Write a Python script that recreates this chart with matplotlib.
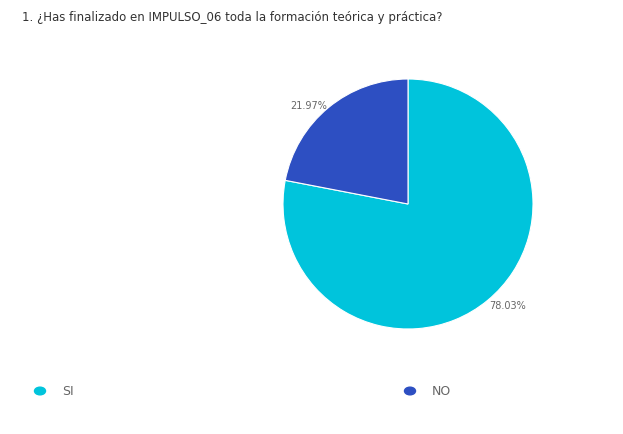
import matplotlib
matplotlib.use("Agg")
import matplotlib.pyplot as plt

categories = ["SI", "NO"]
values = [78.03, 21.97]
colors = ["#00c4dc", "#2d4fc2"]
title = "1. ¿Has finalizado en IMPULSO_06 toda la formación teórica y práctica?"

W, H = 623, 435
fig = plt.figure(figsize=(W/100, H/100), dpi=100)
fig.text(22/W, 1-17/H, title, fontsize=8.5, color="#333333", va="center", family="DejaVu Sans")

cx, cy, r = 408, 205, 125
ax = fig.add_axes([(cx-r)/W, 1-(cy+r)/H, 2*r/W, 2*r/H])
ax.pie(values, colors=colors, startangle=90, counterclock=False,
       wedgeprops=dict(edgecolor="white", linewidth=0.8))
ax.set_aspect("equal")
ax.set_xlim(-1, 1); ax.set_ylim(-1, 1)

fig.text(489/W, 1-306/H, "78.03%", fontsize=7, color="#666666", va="center")
fig.text(327/W, 1-106/H, "21.97%", fontsize=7, color="#666666", va="center", ha="right")

for (x, lab, c) in [(40, categories[0], colors[0]), (410, categories[1], colors[1])]:
    fig.patches.append(plt.Circle((x/W, 1-392/H), 5.5/W, transform=fig.transFigure, color=c))
    fig.text((x+22)/W, 1-392/H, lab, fontsize=9, color="#666666", va="center")

fig.savefig("out.png", dpi=100, facecolor="white")
